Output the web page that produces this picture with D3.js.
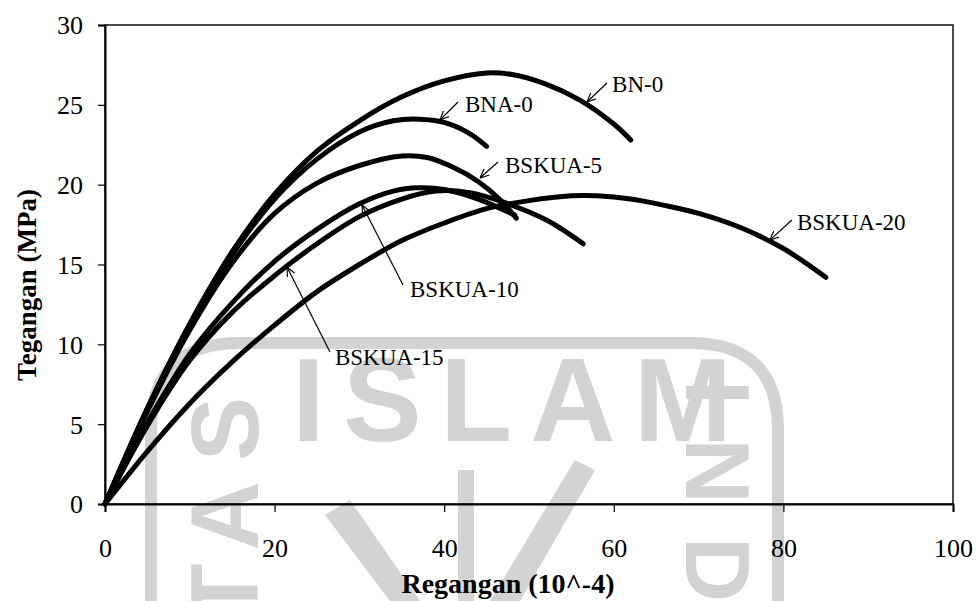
<!DOCTYPE html>
<html>
<head>
<meta charset="utf-8">
<script src="https://cdn.jsdelivr.net/npm/d3@7/dist/d3.min.js"></script>
<style>
  html, body { margin: 0; padding: 0; background: #fff; }
  svg { display: block; }
</style>
</head>
<body>
<svg id="chart" width="977" height="601"></svg>
<script>
// ---------------- DATA ----------------
const xTicks = [0, 20, 40, 60, 80, 100];
const yTicks = [0, 5, 10, 15, 20, 25, 30];
const xTitle = "Regangan (10^-4)";
const yTitle = "Tegangan (MPa)";

const seriesNames = ["BN-0", "BNA-0", "BSKUA-5", "BSKUA-10", "BSKUA-15", "BSKUA-20"];

const bn0Strain = [0, 5, 10, 15, 20, 25, 30, 35, 40, 45, 48, 52, 56, 60, 62];
const bn0Stress = [0, 6.0, 11.3, 15.8, 19.4, 22.1, 24.0, 25.5, 26.5, 27.0, 26.9, 26.3, 25.3, 23.8, 22.8];

const bna0Strain = [0, 5, 10, 15, 20, 25, 30, 34, 37, 40, 43, 45];
const bna0Stress = [0, 6.0, 11.2, 15.6, 19.1, 21.6, 23.3, 24.0, 24.1, 23.9, 23.2, 22.4];

const bskua5Strain = [0, 5, 10, 15, 20, 25, 30, 35, 38, 41, 44, 46.5, 48.5];
const bskua5Stress = [0, 5.8, 10.9, 15.1, 18.2, 20.1, 21.2, 21.8, 21.7, 21.1, 20.2, 19.1, 17.9];

const bskua10Strain = [0, 5, 10, 15, 20, 25, 30, 34, 37, 40, 44, 48.3];
const bskua10Stress = [0, 5.1, 9.4, 12.6, 15.2, 17.2, 18.8, 19.6, 19.8, 19.7, 19.1, 18.1];

const bskua15Strain = [0, 5, 10, 15, 20, 25, 30, 35, 39, 43, 47, 52, 56.4];
const bskua15Stress = [0, 4.9, 9.0, 12.0, 14.3, 16.3, 18.0, 19.1, 19.6, 19.5, 18.9, 17.8, 16.3];

const bskua20Strain = [0, 5, 10, 15, 20, 25, 30, 35, 40, 45, 50, 55, 58, 62, 66, 70, 75, 80, 85];
const bskua20Stress = [0, 3.3, 6.3, 8.9, 11.2, 13.3, 15.0, 16.5, 17.6, 18.5, 19.0, 19.3, 19.3, 19.1, 18.7, 18.2, 17.3, 16.0, 14.2];

// label anchors (data units): text start, arrow tail, arrow head
const labelText = [[59.8, 25.8], [42.45, 24.55], [47.17, 20.73], [35.97, 12.96], [27.12, 8.71], [81.6, 17.16]];
const arrowTail = [[59.2, 26.37], [41.63, 25.18], [46.34, 21.42], [35.14, 13.72], [26.53, 9.52], [81.0, 17.79]];
const arrowHead = [[56.84, 25.18], [39.5, 24.05], [44.22, 20.42], [30.31, 18.73], [21.46, 14.84], [78.4, 16.53]];

// ---------------- CHART ----------------
const svg = d3.select("#chart");
const x = d3.scaleLinear().domain([0, 100]).range([105, 953]);
const y = d3.scaleLinear().domain([0, 30]).range([504, 25]);

const serif = "'Liberation Serif', 'Times New Roman', serif";
const sans = "'Liberation Sans', Arial, sans-serif";
const wm = "#d3d3d3";

// ---- watermark (decorative) ----
const w = svg.append("g").attr("class", "watermark");
w.append("path")
  .attr("d", "M151,601 L151,430 Q151,343 240,343 L690,343 Q778,343 778,430 L778,601")
  .attr("fill", "none").attr("stroke", wm).attr("stroke-width", 12);
w.append("text")
  .attr("x", 292).attr("y", 441)
  .attr("textLength", 440).attr("lengthAdjust", "spacing")
  .attr("font-family", sans).attr("font-weight", "bold").attr("font-size", 118)
  .attr("fill", wm).text("ISLAM");
w.append("text")
  .attr("transform", "translate(258,622) rotate(-90)")
  .attr("textLength", 225).attr("lengthAdjust", "spacing")
  .attr("font-family", sans).attr("font-weight", "bold").attr("font-size", 96)
  .attr("fill", wm).text("TAS");
w.append("text")
  .attr("transform", "translate(686,380) rotate(90)")
  .attr("textLength", 222).attr("lengthAdjust", "spacing")
  .attr("font-family", sans).attr("font-weight", "bold").attr("font-size", 90)
  .attr("fill", wm).text("IND");
w.append("rect").attr("x", 458).attr("y", 470).attr("width", 16).attr("height", 131).attr("fill", wm);
w.append("path").attr("d", "M325,515 L350,500 L420,601 L390,601 Z").attr("fill", wm);
w.append("path").attr("d", "M490,601 L520,601 L595,470 L575,460 Z").attr("fill", wm);

// ---- frame ----
svg.append("rect")
  .attr("x", x(0)).attr("y", y(30))
  .attr("width", x(100) - x(0)).attr("height", y(0) - y(30))
  .attr("fill", "none").attr("stroke", "#000").attr("stroke-width", 1.4);

// ---- axes ----
const xAxis = d3.axisBottom(x).tickValues(xTicks).tickSize(8).tickPadding(27).tickFormat(d3.format("d"));
const yAxis = d3.axisLeft(y).tickValues(yTicks).tickSize(7).tickPadding(15).tickFormat(d3.format("d"));

const gx = svg.append("g").attr("transform", `translate(0,${y(0)})`).call(xAxis);
const gy = svg.append("g").attr("transform", `translate(${x(0)},0)`).call(yAxis);
[gx, gy].forEach(g => {
  g.select(".domain").attr("stroke", "#000").attr("stroke-width", 2);
  g.selectAll(".tick line").attr("stroke", "#000").attr("stroke-width", 1.2);
  g.selectAll(".tick text")
    .attr("font-family", serif).attr("font-size", 26).attr("fill", "#000");
});
gx.selectAll(".tick text").attr("dy", "0.71em");
gy.selectAll(".tick text").attr("dy", "0.34em");

// ---- axis titles ----
svg.append("text")
  .attr("x", 508).attr("y", 593)
  .attr("text-anchor", "middle")
  .attr("font-family", serif).attr("font-weight", "bold").attr("font-size", 28)
  .text(xTitle);
svg.append("text")
  .attr("transform", "translate(36,285) rotate(-90)")
  .attr("text-anchor", "middle")
  .attr("font-family", serif).attr("font-weight", "bold").attr("font-size", 27)
  .text(yTitle);

// ---- curves ----
const strains = [bn0Strain, bna0Strain, bskua5Strain, bskua10Strain, bskua15Strain, bskua20Strain];
const stresses = [bn0Stress, bna0Stress, bskua5Stress, bskua10Stress, bskua15Stress, bskua20Stress];
const line = d3.line().x(d => x(d[0])).y(d => y(d[1])).curve(d3.curveCatmullRom.alpha(0.5));

const curves = seriesNames.map((name, i) => ({
  name,
  pts: strains[i].map((s, j) => [s, stresses[i][j]])
}));

svg.append("g").selectAll("path")
  .data(curves)
  .join("path")
  .attr("d", d => line(d.pts))
  .attr("fill", "none")
  .attr("stroke", "#000")
  .attr("stroke-width", 5)
  .attr("stroke-linecap", "round")
  .attr("stroke-linejoin", "round");

// ---- labels & arrows ----
const defs = svg.append("defs");
defs.append("marker")
  .attr("id", "arr")
  .attr("viewBox", "0 0 10 10")
  .attr("refX", 10).attr("refY", 5)
  .attr("markerWidth", 9).attr("markerHeight", 9)
  .attr("markerUnits", "userSpaceOnUse")
  .attr("orient", "auto")
  .append("path")
  .attr("d", "M0,0.5 L10,5 L0,9.5")
  .attr("fill", "none").attr("stroke", "#000").attr("stroke-width", 1.3);

const ann = svg.append("g");
seriesNames.forEach((name, i) => {
  ann.append("line")
    .attr("x1", x(arrowTail[i][0])).attr("y1", y(arrowTail[i][1]))
    .attr("x2", x(arrowHead[i][0])).attr("y2", y(arrowHead[i][1]))
    .attr("stroke", "#000").attr("stroke-width", 1.2)
    .attr("marker-end", "url(#arr)");
  ann.append("text")
    .attr("x", x(labelText[i][0])).attr("y", y(labelText[i][1]))
    .attr("font-family", serif).attr("font-size", 23)
    .attr("fill", "#000")
    .text(name);
});
</script>
</body>
</html>
